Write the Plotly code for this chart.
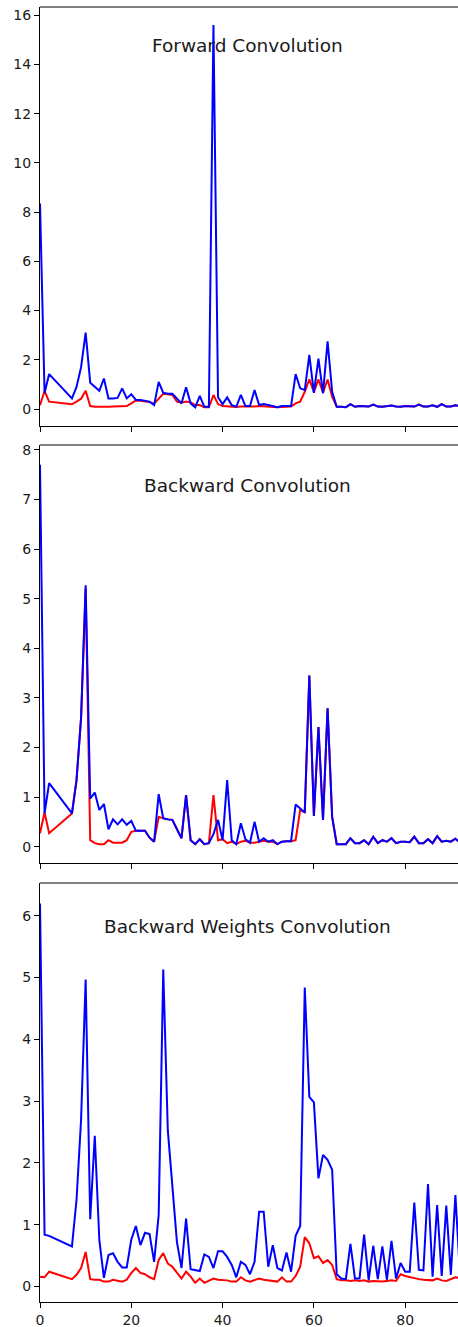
import plotly.graph_objects as go

X = [0, 1, 2] + list(range(7, 93))

fwd_blue = [8.35, 0.65, 1.42,
            0.43, 0.9, 1.7, 3.1, 1.07, 0.9, 0.74, 1.24, 0.43, 0.43, 0.45, 0.84, 0.43, 0.6, 0.37, 0.37, 0.35, 0.3,
            0.16, 1.1, 0.66, 0.62, 0.62, 0.41, 0.23, 0.88, 0.23, 0.07, 0.53, 0.09, 0.09, 15.6, 0.48, 0.2, 0.47,
            0.16, 0.09, 0.57, 0.12, 0.12,
            0.77, 0.16, 0.2, 0.16, 0.12, 0.07, 0.12, 0.12, 0.12, 1.42, 0.84, 0.77, 2.2, 0.66, 2.05, 0.64, 2.75,
            0.7, 0.09,
            0.09, 0.07, 0.2, 0.09, 0.12, 0.12, 0.1, 0.18, 0.1, 0.09, 0.1, 0.14, 0.1, 0.09, 0.12, 0.1, 0.1, 0.18,
            0.1, 0.1, 0.15, 0.09, 0.2, 0.1, 0.1, 0.15, 0.12]
fwd_red = [0.15, 0.73, 0.3,
           0.19, 0.3, 0.42, 0.74, 0.12, 0.09, 0.08, 0.1, 0.09, 0.1, 0.1, 0.09, 0.12, 0.23, 0.35, 0.34, 0.32, 0.28,
           0.22, 0.43, 0.62, 0.6, 0.57, 0.3, 0.26, 0.3, 0.27, 0.16, 0.16, 0.07, 0.07, 0.57, 0.2, 0.12, 0.1,
           0.1, 0.08, 0.1, 0.1, 0.08,
           0.1, 0.12, 0.1, 0.09, 0.08, 0.07, 0.08, 0.1, 0.1, 0.23, 0.3, 0.7, 1.2, 0.7, 1.2, 0.66, 1.2,
           0.5, 0.09,
           0.09, 0.07, 0.2, 0.09, 0.12, 0.12, 0.1, 0.18, 0.1, 0.09, 0.1, 0.14, 0.1, 0.09, 0.12, 0.1, 0.1, 0.18,
           0.1, 0.1, 0.15, 0.09, 0.2, 0.1, 0.1, 0.15, 0.12]

bwd_blue = [7.7, 0.67, 1.28,
            0.67, 1.34, 2.6, 5.27, 0.97, 1.09, 0.74, 0.86, 0.35, 0.55, 0.45, 0.55, 0.44, 0.52, 0.32, 0.32, 0.32,
            0.18, 0.1, 1.06, 0.57, 0.55, 0.54, 0.35, 0.17, 1.04, 0.13, 0.05, 0.15, 0.05, 0.07, 0.25, 0.54, 0.13,
            1.34, 0.13, 0.05, 0.47, 0.15, 0.08,
            0.5, 0.1, 0.17, 0.1, 0.13, 0.05, 0.1, 0.11, 0.11, 0.85, 0.77, 0.69, 3.45, 0.62, 2.41, 0.54, 2.79,
            0.6, 0.05,
            0.05, 0.05, 0.17, 0.07, 0.07, 0.13, 0.05, 0.2, 0.07, 0.13, 0.1, 0.17, 0.07, 0.1, 0.1, 0.09, 0.2,
            0.07, 0.07, 0.15, 0.07, 0.21, 0.1, 0.12, 0.1, 0.16, 0.08]
bwd_red = [0.27, 0.69, 0.27,
           0.67, 1.34, 2.6, 5.2, 0.13, 0.07, 0.05, 0.05, 0.13, 0.08, 0.08, 0.08, 0.13, 0.3, 0.32, 0.32, 0.32,
           0.18, 0.1, 0.6, 0.57, 0.55, 0.54, 0.35, 0.17, 1.04, 0.13, 0.05, 0.15, 0.05, 0.07, 1.04, 0.13, 0.15,
           0.07, 0.1, 0.05, 0.1, 0.12, 0.08,
           0.08, 0.1, 0.12, 0.1, 0.1, 0.05, 0.1, 0.11, 0.11, 0.13, 0.74, 0.69, 3.45, 0.62, 2.41, 0.54, 2.79,
           0.6, 0.05,
           0.05, 0.05, 0.17, 0.07, 0.07, 0.13, 0.05, 0.2, 0.07, 0.13, 0.1, 0.17, 0.07, 0.1, 0.1, 0.09, 0.2,
           0.07, 0.07, 0.15, 0.07, 0.21, 0.1, 0.12, 0.1, 0.16, 0.08]

wts_blue = [6.2, 0.84, 0.82,
            0.65, 1.4, 2.7, 4.97, 1.09, 2.44, 0.75, 0.14, 0.51, 0.54, 0.4, 0.31, 0.31, 0.76, 0.98, 0.67, 0.87,
            0.85, 0.4, 1.16, 5.13, 2.53, 1.6, 0.72, 0.3, 1.1, 0.28, 0.27, 0.25, 0.52, 0.48, 0.3, 0.57, 0.57,
            0.48, 0.35, 0.15, 0.4, 0.35, 0.2,
            0.4, 1.21, 1.21, 0.32, 0.67, 0.3, 0.26, 0.55, 0.24, 0.82, 0.98, 4.84, 3.07, 2.98, 1.75, 2.13, 2.05,
            1.89, 0.2,
            0.13, 0.12, 0.69, 0.13, 0.13, 0.84, 0.1, 0.66, 0.12, 0.65, 0.11, 0.74, 0.13, 0.38, 0.24, 0.24, 1.36,
            0.27, 0.26, 1.66, 0.16, 1.32, 0.17, 1.31, 0.19, 1.48, 0.2]
wts_red = [0.16, 0.15, 0.24,
           0.12, 0.19, 0.3, 0.56, 0.12, 0.11, 0.11, 0.08, 0.08, 0.11, 0.1, 0.08, 0.11, 0.22, 0.3, 0.22, 0.2,
           0.15, 0.12, 0.43, 0.54, 0.37, 0.32, 0.22, 0.13, 0.24, 0.16, 0.06, 0.13, 0.06, 0.1, 0.13, 0.11, 0.11,
           0.1, 0.08, 0.08, 0.15, 0.1, 0.08,
           0.1, 0.13, 0.11, 0.1, 0.08, 0.08, 0.15, 0.08, 0.08, 0.17, 0.32, 0.8, 0.7, 0.46, 0.49, 0.38, 0.43,
           0.35, 0.12,
           0.1, 0.1, 0.09, 0.1, 0.09, 0.1, 0.08, 0.09, 0.08, 0.08, 0.09, 0.1, 0.09, 0.2, 0.17, 0.15, 0.13,
           0.12, 0.11, 0.11, 0.1, 0.13, 0.1, 0.09, 0.12, 0.15, 0.14]

titles = ["Forward Convolution", "Backward Convolution", "Backward Weights Convolution"]
y_ranges = [[-0.69, 16.33], [-0.33, 8.1], [-0.25, 6.53]]
y_ticks = [list(range(0, 17, 2)), list(range(0, 9)), list(range(0, 7))]
x_ticks = [0, 20, 40, 60, 80]
x_range = [0, 91.57]

W, H = 458, 1327
ML, MR, MT, MB = 40, 0, 7, 25
ph = H - MT - MB
pw = W - ML - MR
# pixel rows (top, bottom) of each panel
rows_px = [(7, 426), (445, 863), (883, 1302)]
domains = [[(H - MB - b) / ph, (H - MB - t) / ph] for t, b in rows_px]
title_px = [46, 486, 926]
title_cx = 247

FONT = "DejaVu Sans"
TXT = "#1a1a1a"

fig = go.Figure()
series = [(fwd_red, fwd_blue), (bwd_red, bwd_blue), (wts_red, wts_blue)]
for i, (red, blue) in enumerate(series):
    xa = "x" if i == 0 else f"x{i+1}"
    ya = "y" if i == 0 else f"y{i+1}"
    fig.add_trace(go.Scatter(x=X, y=red, mode="lines", line=dict(color="#ff0000", width=2),
                             xaxis=xa, yaxis=ya, showlegend=False))
    fig.add_trace(go.Scatter(x=X, y=blue, mode="lines", line=dict(color="#0000ff", width=2),
                             xaxis=xa, yaxis=ya, showlegend=False))

layout = dict(width=W, height=H, margin=dict(l=ML, r=MR, t=MT, b=MB, autoexpand=False),
              paper_bgcolor="white", plot_bgcolor="white",
              font=dict(family=FONT, size=14, color=TXT))
shapes = []
annotations = []
for i in range(3):
    xk = "xaxis" if i == 0 else f"xaxis{i+1}"
    yk = "yaxis" if i == 0 else f"yaxis{i+1}"
    ya = "y" if i == 0 else f"y{i+1}"
    xa = "x" if i == 0 else f"x{i+1}"
    layout[xk] = dict(domain=[0, 1], anchor=ya, range=x_range, tickvals=x_ticks,
                      showticklabels=(i == 2), ticks="outside", ticklen=5, tickwidth=1,
                      tickcolor="#000", showline=True, linecolor="#000", linewidth=1,
                      showgrid=False, zeroline=False, fixedrange=True, automargin=False,
                      tickfont=dict(family=FONT, size=14, color=TXT))
    layout[yk] = dict(domain=domains[i], anchor=xa, range=y_ranges[i], tickvals=y_ticks[i],
                      ticks="outside", ticklen=5, tickwidth=1, tickcolor="#000",
                      showline=True, linecolor="#000", linewidth=1,
                      showgrid=False, zeroline=False, fixedrange=True, automargin=False,
                      tickfont=dict(family=FONT, size=14, color=TXT))
    # top spine
    shapes.append(dict(type="line", xref=f"{xa} domain", yref=f"{ya} domain",
                       x0=0, x1=1, y0=1, y1=1, line=dict(color="#000", width=1)))
    annotations.append(dict(text=titles[i], xref="paper", yref="paper",
                            x=(title_cx - ML) / pw, y=(H - MB - title_px[i]) / ph,
                            xanchor="center", yanchor="middle", showarrow=False,
                            font=dict(family=FONT, size=18.5, color=TXT)))

layout["shapes"] = shapes
layout["annotations"] = annotations
fig.update_layout(**layout)

fig.write_html("out.html", config={"displayModeBar": False},
               post_script="document.body.style.margin='0';document.body.style.padding='0';"
                           "document.body.style.overflow='hidden';"
                           "document.documentElement.style.overflow='hidden';")
